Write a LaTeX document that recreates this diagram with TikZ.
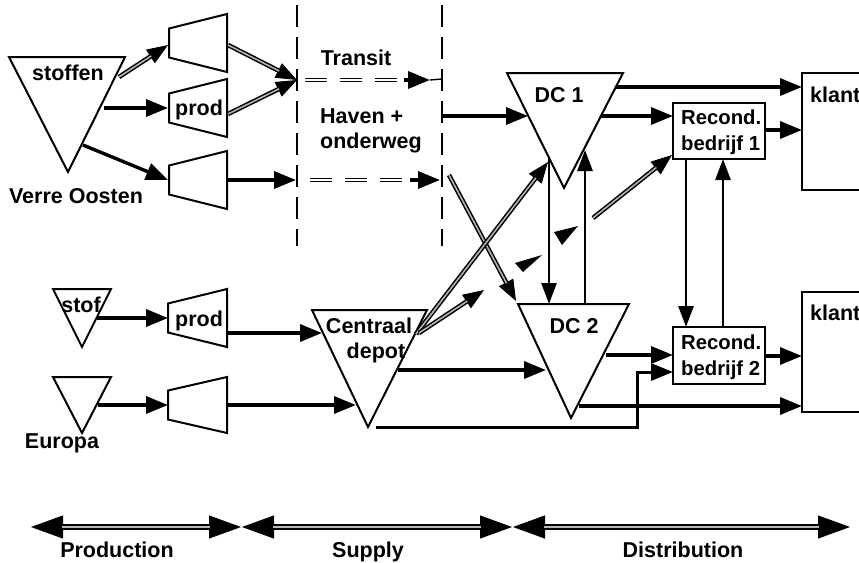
\documentclass[tikz,border=0pt]{standalone}
\usepackage{fontspec}
\setmainfont{Liberation Sans}
\usetikzlibrary{arrows.meta}
\tikzset{
  lbl/.style={font=\bfseries\fontsize{21.5}{26}\selectfont, inner sep=0pt, anchor=base},
  lblw/.style={lbl, anchor=base west},
  lblr/.style={font=\bfseries\fontsize{20.3}{26}\selectfont, inner sep=0pt, anchor=base west},
  shp/.style={draw, line width=2pt, line join=miter},
  arr/.style={draw, line width=3.4pt, -{Triangle[length=22pt,width=17pt]}},
  tarr/.style={draw, line width=2.6pt, -{Triangle[length=21pt,width=15pt]}},
  thintip/.style={draw, line width=1pt, -{Triangle[length=21pt,width=16pt]}},
  dblline/.style={draw, line width=1.5pt, double=gray!60, double distance=1.6pt},
  dbldash/.style={draw, line width=1.1pt, double=white, double distance=2.6pt, dash pattern=on 22pt off 13pt},
  vdash/.style={draw, line width=1.7pt, dash pattern=on 22pt off 10pt},
  tlinetip/.style={draw, line width=1pt, {Triangle[length=32pt,width=23pt]}-{Triangle[length=32pt,width=23pt]}},
  tline/.style={draw, line width=1.8pt, double=gray!55, double distance=2.6pt, shorten <=31pt, shorten >=31pt},
}
\newcommand\dblarrow[2]{\draw[thintip] (#1) -- (#2); \draw[dblline, shorten >=20pt] (#1) -- (#2);}
\newcommand\timearrow[2]{\draw[tlinetip] (#1) -- (#2); \draw[tline] (#1) -- (#2);}
\begin{document}
\begin{tikzpicture}[x=1pt,y=-1pt]
\useasboundingbox (0,0) rectangle (859,562);
\clip (0,0) rectangle (859,562);
\fill[white] (0,0) rectangle (859,562);

% ---------- shapes ----------
% Verre Oosten source
\draw[shp] (9,57) -- (125,57) -- (68,172) -- cycle;
\node[lbl] (stoffen) at (68,80.5) {stoffen};
\node[lbl] (verre) at (76,203) {Verre Oosten};
% trapezoids
\draw[shp] (169,28.5) -- (227,14) -- (227,72) -- (169,57.5) -- cycle;
\draw[shp] (169,93.5) -- (227,79) -- (227,137) -- (169,122.5) -- cycle;
\node[lbl] (prod1) at (199,115) {prod};
\draw[shp] (169,165.5) -- (227,151) -- (227,209) -- (169,194.5) -- cycle;
\draw[shp] (168,303.5) -- (227,289) -- (227,347) -- (168,332.5) -- cycle;
\node[lbl] (prod2) at (199,326) {prod};
\draw[shp] (168,390.5) -- (227,377) -- (227,433) -- (168,419.5) -- cycle;
% Europa sources
\draw[shp] (53,289) -- (111,289) -- (82,347) -- cycle;
\node[lbl] (stof) at (81,312) {stof};
\draw[shp] (53,377) -- (111,377) -- (82,433) -- cycle;
\node[lbl] (europa) at (62,448) {Europa};
% Centraal depot
\draw[shp] (312,310) -- (427,310) -- (368,427) -- cycle;
\node[lbl] (centraal) at (369,333) {Centraal};
\node[lbl] (depot) at (376,358) {depot};
% DC 1, DC 2
\draw[shp] (507,73) -- (623,73) -- (564,188) -- cycle;
\node[lbl] (dc1) at (559,102) {DC 1};
\draw[shp] (518,304) -- (629,304) -- (571,418) -- cycle;
\node[lbl] (dc2) at (574,333) {DC 2};
% Recond. bedrijf
\draw[shp] (673,103) rectangle (765,159);
\node[lblr] (rec1a) at (681,124) {Recond.};
\node[lblr] (rec1b) at (681,150) {bedrijf 1};
\draw[shp] (673,327) rectangle (765,384);
\node[lblr] (rec2a) at (681,349) {Recond.};
\node[lblr] (rec2b) at (681,375) {bedrijf 2};
% klant (box runs past the right edge, as in the reference)
\draw[shp] (802,73) rectangle (880,190);
\node[lblw] (klant1) at (810,102) {klant};
\draw[shp] (802,292) rectangle (880,412);
\node[lblw] (klant2) at (810,320) {klant};
% transit zone
\draw[vdash] (297,5) -- (297,246);
\draw[vdash] (442,5) -- (442,246);
\node[lbl] (transit) at (356,65) {Transit};
\node[lblw] (haven) at (320,123) {Haven +};
\node[lblw] (onderweg) at (320,148) {onderweg};

% ---------- coordinates ----------
\coordinate (a1s) at (119,77);  \coordinate (a1e) at (168,45);
\coordinate (a2s) at (104,108); \coordinate (a2e) at (168,108);
\coordinate (a3s) at (83,145);  \coordinate (a3e) at (168,180);
\coordinate (j1) at (297,80);
\coordinate (t1s) at (228,45);  \coordinate (t2s) at (228,114);
\coordinate (t3s) at (228,180); \coordinate (j2) at (296,180);
\coordinate (tr1s) at (305,80); \coordinate (tr1m) at (400,80); \coordinate (tr1a) at (404,80); \coordinate (tr1e) at (430,80);
\coordinate (tr1x) at (442,79);
\coordinate (tr2s) at (310,180); \coordinate (tr2m) at (406,180); \coordinate (tr2a) at (410,180); \coordinate (tr2e) at (440,180);
\coordinate (hv) at (442,116);  \coordinate (dc1l) at (528,116);
\coordinate (dc1r1) at (616,87); \coordinate (k1a) at (802,87);
\coordinate (dc1r2) at (601,116); \coordinate (r1l) at (673,116);
\coordinate (r1r) at (765,130); \coordinate (k1b) at (802,130);
\coordinate (crs) at (449,175); \coordinate (dc2tl) at (516,301);
\coordinate (cd1) at (416,334); \coordinate (dc1b) at (548,162);
\coordinate (cd2) at (419,333); \coordinate (mid) at (484,290);
\coordinate (rs) at (593,218);  \coordinate (r1bl) at (672,155);
\coordinate (dn1) at (549,158); \coordinate (dn2) at (549,304);
\coordinate (up1) at (585,304); \coordinate (up2) at (585,150);
\coordinate (rd1) at (686,159); \coordinate (rd2) at (686,327);
\coordinate (ru1) at (723,327); \coordinate (ru2) at (723,159);
\coordinate (e1s) at (97,318);  \coordinate (e1e) at (168,318);
\coordinate (e2s) at (98,405);  \coordinate (e2e) at (168,405);
\coordinate (p1s) at (227,333); \coordinate (p1e) at (322,333);
\coordinate (p2s) at (227,405); \coordinate (p2e) at (356,405);
\coordinate (cdr) at (398,370); \coordinate (dc2l) at (546,370);
\coordinate (dc2r) at (606,355); \coordinate (r2l1) at (673,355);
\coordinate (cdb) at (376,427); \coordinate (bend) at (637,427); \coordinate (bend2) at (637,372); \coordinate (r2l2) at (673,372);
\coordinate (dc2b) at (579,406); \coordinate (k2b) at (802,406);
\coordinate (r2r) at (765,356); \coordinate (k2a) at (802,356);

% ---------- connectors ----------
\dblarrow{a1s}{a1e}
\draw[arr] (a2s) -- (a2e);
\draw[arr] (a3s) -- (a3e);
\dblarrow{t1s}{j1}
\dblarrow{t2s}{j1}
\draw[arr] (t3s) -- (j2);
% transit dashed double arrows
\draw[dbldash] (tr1s) -- (tr1m);
\draw[arr] (tr1a) -- (tr1e);
\draw[line width=1.4pt] (tr1e) -- (tr1x);
\draw[dbldash] (tr2s) -- (tr2m);
\draw[arr] (tr2a) -- (tr2e);
% into distribution
\draw[arr] (hv) -- (dc1l);
\draw[arr] (dc1r1) -- (k1a);
\draw[arr] (dc1r2) -- (r1l);
\draw[arr] (r1r) -- (k1b);
\dblarrow{crs}{dc2tl}
\dblarrow{cd1}{dc1b}
\dblarrow{cd2}{mid}
\dblarrow{rs}{r1bl}
\draw[tarr] (dn1) -- (dn2);
\draw[tarr] (up1) -- (up2);
\draw[tarr] (rd1) -- (rd2);
\draw[tarr] (ru1) -- (ru2);
% loose arrowheads
\fill (554,232) -- (578,226) -- (562,245) -- cycle;
\fill (515,263) -- (542,255) -- (523,272) -- cycle;
% Europa chain
\draw[arr] (e1s) -- (e1e);
\draw[arr] (e2s) -- (e2e);
\draw[arr] (p1s) -- (p1e);
\draw[arr] (p2s) -- (p2e);
\draw[arr] (cdr) -- (dc2l);
\draw[arr] (dc2r) -- (r2l1);
\draw[arr, line width=3pt] (cdb) -- (bend) -- (bend2) -- (r2l2);
\draw[arr] (dc2b) -- (k2b);
\draw[arr] (r2r) -- (k2a);

% ---------- time line ----------
\coordinate (tl0) at (31,527); \coordinate (tl1) at (241,527);
\coordinate (tl2) at (242,527); \coordinate (tl3) at (512,527);
\coordinate (tl4) at (513,527); \coordinate (tl5) at (850,527);
\timearrow{tl0}{tl1}
\timearrow{tl2}{tl3}
\timearrow{tl4}{tl5}
\node[lbl] (production) at (117,557) {Production};
\node[lbl] (supply) at (368,557) {Supply};
\node[lbl] (distribution) at (683,557) {Distribution};
\end{tikzpicture}
\end{document}
